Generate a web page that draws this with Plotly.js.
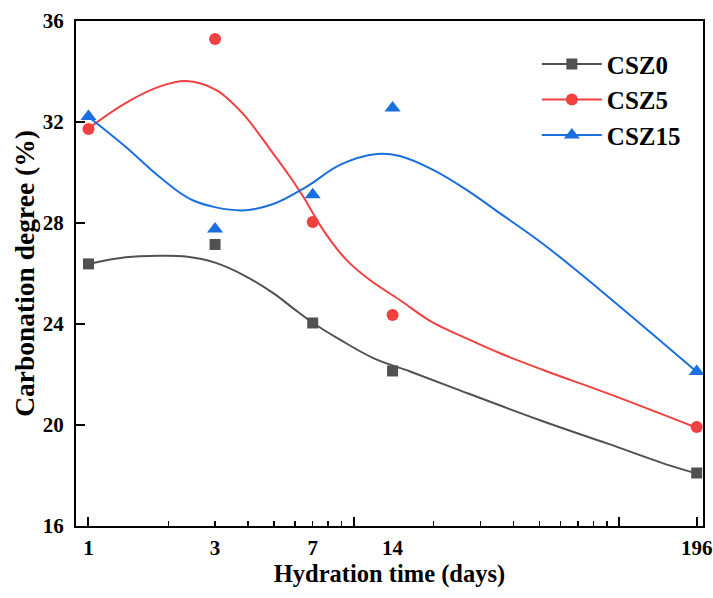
<!DOCTYPE html>
<html>
<head>
<meta charset="utf-8">
<script src="https://cdn.plot.ly/plotly-3.0.1.min.js"></script>
<style>html,body{margin:0;padding:0;background:#fff;}#chart{width:713px;height:598px;}</style>
</head>
<body>
<div id="chart"></div>
<script>
// Measured data points
var days = [1, 3, 7, 14, 196];
var csz0 = [26.38, 27.15, 24.04, 22.14, 18.10];
var csz5 = [31.72, 35.29, 28.04, 24.36, 19.92];
var csz15 = [32.22, 27.76, 29.12, 32.55, 22.12];

// Smoothed fitted curves
var fit0X = [1, 1.38, 1.85, 2.33, 3.02, 3.9, 4.97, 5.9, 7, 8.9, 11.9, 16.3, 24.4, 50, 90, 160, 196];
var fit0Y = [26.38, 26.64, 26.7, 26.67, 26.42, 25.9, 25.22, 24.63, 24.05, 23.37, 22.64, 22.12, 21.42, 20.2, 19.27, 18.35, 18.08];
var fit5X = [1, 1.38, 1.85, 2.33, 3.02, 3.81, 4.97, 5.75, 6.45, 7.67, 9.4, 11.5, 14.9, 19.9, 26.6, 35.6, 52, 90, 196];
var fit5Y = [31.75, 32.75, 33.4, 33.62, 33.27, 32.34, 30.75, 29.83, 29.04, 27.72, 26.53, 25.74, 24.95, 24.05, 23.43, 22.84, 22.17, 21.26, 19.89];
var fit15X = [1, 1.38, 1.85, 2.47, 3.77, 4.97, 6.64, 8.87, 12.2, 14.9, 19.9, 26.6, 35.6, 52, 84.7, 196];
var fit15Y = [32.21, 31.02, 29.83, 28.9, 28.5, 28.75, 29.44, 30.3, 30.73, 30.65, 30.1, 29.31, 28.38, 27.15, 25.35, 22.11];

var names = ['CSZ0', 'CSZ5', 'CSZ15'];
var colors = ['#515151', '#F14040', '#1A6FDF'];
var symbols = ['square', 'circle', 'triangle-up'];
var sizes = [11, 12, 14];

var xTickVals = [1, 3, 7, 14, 196];
var xTickText = ['1', '3', '7', '14', '196'];
var xMajorTicks = [1, 10, 100, 196];
var xMinorTicks = [2, 3, 4, 5, 6, 7, 8, 9, 20, 30, 40, 50, 60, 70, 80, 90];
var yTickVals = [16, 20, 24, 28, 32, 36];

var pts = [csz0, csz5, csz15];
var fitsX = [fit0X, fit5X, fit15X];
var fitsY = [fit0Y, fit5Y, fit15Y];

var serif = '"Times New Roman", "Liberation Serif", serif';
var traces = [];
for (var i = 0; i < 3; i++) {
  traces.push({
    x: fitsX[i], y: fitsY[i], type: 'scatter', mode: 'lines',
    line: {color: colors[i], width: 2, shape: 'spline', smoothing: 1},
    showlegend: false, hoverinfo: 'skip', xaxis: 'x', yaxis: 'y'
  });
}
for (var i = 0; i < 3; i++) {
  traces.push({
    x: days, y: pts[i], type: 'scatter', mode: 'markers',
    marker: {color: colors[i], symbol: symbols[i], size: sizes[i]},
    showlegend: false, xaxis: 'x2', yaxis: 'y'
  });
}
for (var i = 0; i < 3; i++) {
  traces.push({
    x: [null], y: [null], type: 'scatter', mode: 'lines+markers', name: names[i],
    line: {color: colors[i], width: 2},
    marker: {color: colors[i], symbol: symbols[i], size: sizes[i]},
    xaxis: 'x', yaxis: 'y'
  });
}

var xr = [-0.047, 2.316];
var layout = {
  width: 713, height: 598,
  margin: {l: 76, r: 10, t: 21, b: 72},
  paper_bgcolor: '#fff', plot_bgcolor: '#fff',
  font: {family: serif, color: '#000'},
  showlegend: true,
  legend: {
    x: 0.735, y: 0.96, xanchor: 'left', yanchor: 'top',
    font: {family: serif, size: 25, weight: 'bold', color: '#000'},
    itemwidth: 60, tracegroupgap: 0, bgcolor: 'rgba(0,0,0,0)'
  },
  xaxis: {
    type: 'log', range: xr, autorange: false,
    tickmode: 'array', tickvals: xTickVals, ticktext: xTickText,
    ticks: '', showgrid: false, zeroline: false,
    showline: true, linecolor: '#000', linewidth: 2, mirror: true,
    tickfont: {family: serif, size: 21, weight: 'bold', color: '#000'},
    ticklabelstandoff: 2,
    title: {text: 'Hydration time (days)', font: {family: serif, size: 24.5, weight: 'bold', color: '#000'}, standoff: 0},
    automargin: false
  },
  xaxis2: {
    type: 'log', range: xr, autorange: false, overlaying: 'x', anchor: 'y', side: 'bottom',
    tickmode: 'array', tickvals: xMajorTicks, showticklabels: false,
    ticks: 'inside', ticklen: 9, tickwidth: 2, tickcolor: '#000',
    minor: {tickmode: 'array', tickvals: xMinorTicks, ticks: 'inside', ticklen: 5, tickwidth: 1.5, tickcolor: '#000', showgrid: false},
    showgrid: false, zeroline: false, showline: false, automargin: false
  },
  yaxis: {
    range: [16, 36], autorange: false,
    tickmode: 'array', tickvals: yTickVals,
    ticks: 'inside', ticklen: 9, tickwidth: 2, tickcolor: '#000',
    showgrid: false, zeroline: false,
    showline: true, linecolor: '#000', linewidth: 2, mirror: true,
    tickfont: {family: serif, size: 21, weight: 'bold', color: '#000'},
    ticklabelstandoff: 6,
    title: {text: 'Carbonation degree (%)', font: {family: serif, size: 27.5, weight: 'bold', color: '#000'}, standoff: 0},
    automargin: false
  }
};
Plotly.newPlot('chart', traces, layout, {displayModeBar: false, staticPlot: true});
</script>
</body>
</html>
